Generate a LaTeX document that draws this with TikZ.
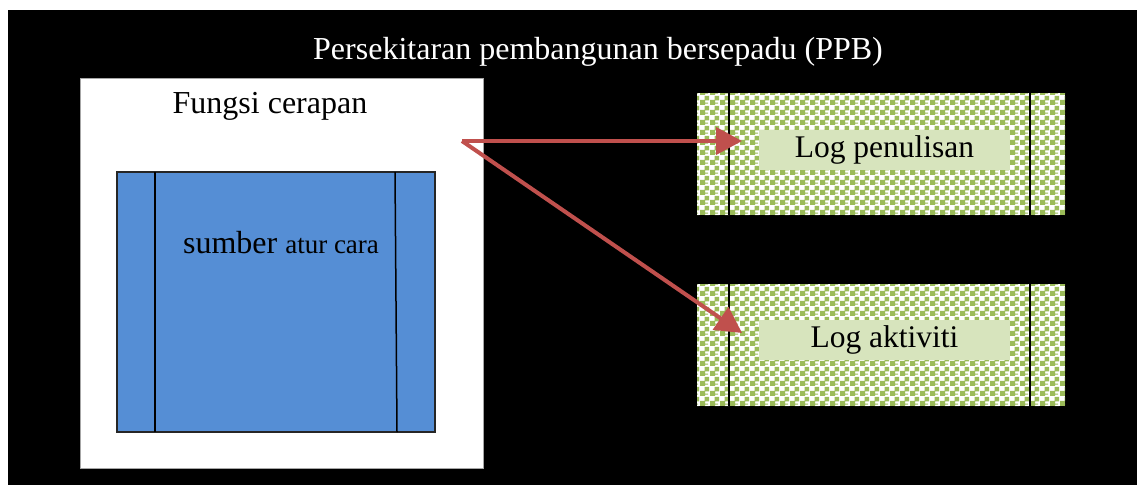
\documentclass[tikz,border=0pt]{standalone}
\usepackage{fontspec}
\setmainfont{Liberation Serif}
\usetikzlibrary{arrows.meta,patterns}
\definecolor{bluefill}{HTML}{558ED5}
\definecolor{greenpat}{HTML}{9BBB59}
\definecolor{labelgreen}{HTML}{D7E4BD}
\definecolor{arrowred}{HTML}{C0504D}
\pgfdeclarepatternformonly{mychecker}{\pgfpoint{0pt}{0pt}}{\pgfpoint{10pt}{10pt}}{\pgfpoint{10pt}{10pt}}{%
  \pgfpathrectangle{\pgfpoint{0pt}{0pt}}{\pgfpoint{5.5pt}{5.5pt}}%
  \pgfpathrectangle{\pgfpoint{5pt}{5pt}}{\pgfpoint{5pt}{5pt}}%
  \pgfpathrectangle{\pgfpoint{6pt}{1.5pt}}{\pgfpoint{3pt}{1.2pt}}%
  \pgfusepath{fill}}
\tikzset{
  box/.style={inner sep=0pt, outer sep=0pt},
  whitebox/.style={box, fill=white, draw=gray!70, line width=0.8pt},
  bluebox/.style={box, fill=bluefill, draw=black!85, line width=1.5pt},
  patbox/.style={box, fill=white, postaction={pattern=mychecker, pattern color=greenpat}},
  labelbox/.style={box, fill=labelgreen, font=\fontsize{31.5}{34}\selectfont},
  divider/.style={black, line width=1.5pt},
  redarrow/.style={arrowred, line width=4pt, -{Triangle[length=26pt,width=27pt]}},
  txt/.style={box, font=\fontsize{32}{35}\selectfont}
}
\begin{document}
\begin{tikzpicture}[x=1pt,y=-1pt]
\useasboundingbox (0,0) rectangle (1137,485);
\fill[black] (8,10) rectangle (1137,485);
\node[txt, text=white] (title) at (598,52) {Persekitaran pembangunan bersepadu (PPB)};
% left white box
\node[whitebox, minimum width=403pt, minimum height=390pt] (app) at (281.5,273) {};
\node[txt] (appname) at (270,106) {Fungsi cerapan};
\node[bluebox, minimum width=318pt, minimum height=260pt] (src) at (276,302) {};
\draw[divider] (155,172) -- (155,432);
\draw[divider] (395,172) -- (397,432);
\node[txt] (srcname) at (281,243) {sumber {\fontsize{27}{30}\selectfont atur cara}};
% right boxes
\node[patbox, minimum width=368pt, minimum height=122pt] (log1) at (881,154) {};
\draw[divider] (729,93) -- (729,215);
\draw[divider] (1030,93) -- (1030,215);
\node[labelbox, minimum width=251pt, minimum height=40pt] (lbl1) at (884.5,150) {\raisebox{-3pt}{Log penulisan}};
\node[patbox, minimum width=368pt, minimum height=122pt] (log2) at (881,345) {};
\draw[divider] (729,284) -- (729,406);
\draw[divider] (1030,284) -- (1030,406);
\node[labelbox, minimum width=251pt, minimum height=40pt] (lbl2) at (884.5,340) {\raisebox{-3pt}{Log aktiviti}};
% arrows
\coordinate (start) at (462,141);
\coordinate (end1) at (742,141);
\coordinate (end2) at (742,333);
\draw[redarrow] (start) -- (end1);
\draw[redarrow] (start) -- (end2);
\end{tikzpicture}
\end{document}
